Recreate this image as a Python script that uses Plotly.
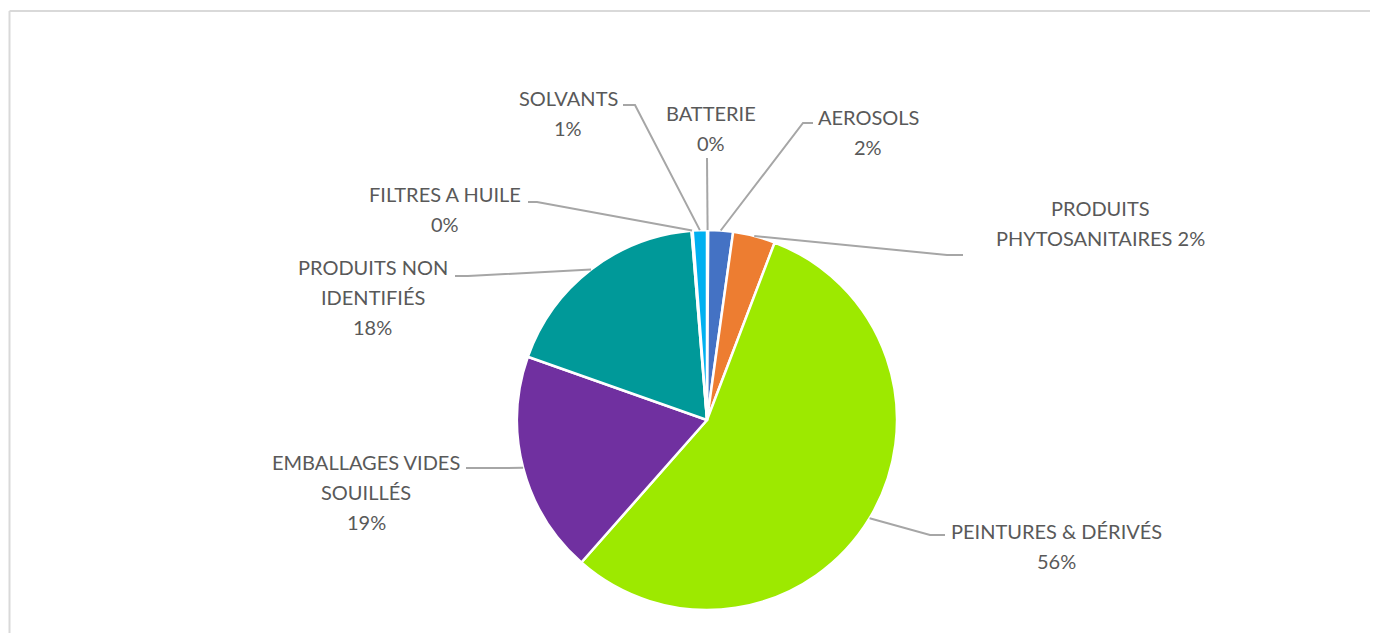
import plotly.graph_objects as go
import math

# --- data (clockwise from 12 o'clock) ---
categories = ["BATTERIE", "AEROSOLS", "PRODUITS PHYTOSANITAIRES", "PEINTURES & DÉRIVÉS",
              "EMBALLAGES VIDES SOUILLÉS", "PRODUITS NON IDENTIFIÉS", "FILTRES A HUILE", "SOLVANTS"]
values = [0.1, 2.1, 3.6, 55.7, 18.9, 18.3, 0.1, 1.2]
pct_text = ["0%", "2%", "2%", "56%", "19%", "18%", "0%", "1%"]
colors = ["#A5A5A5", "#4472C4", "#ED7D31", "#9DE900", "#7030A0", "#009999", "#FFC000", "#00B0F0"]

OFF = 8  # page body margin
W, H = 1378 - 2 * OFF, 641 - 2 * OFF
CX, CY, R = 707, 420, 190  # pie centre / radius in window px


def px(x, y):
    return (x - OFF) / W, 1 - (y - OFF) / H


# label layout: text lines, centre x, first line y, leader points (label side first)
label_layout = {
    "BATTERIE": (["BATTERIE"], 711, 113, [(707, 158)]),
    "AEROSOLS": (["AEROSOLS"], 868, 117, [(813, 123), (803, 123)]),
    "PRODUITS PHYTOSANITAIRES": (["PRODUITS", "PHYTOSANITAIRES"], 1100, 208, [(963, 255), (947, 255)]),
    "PEINTURES & DÉRIVÉS": (["PEINTURES & DÉRIVÉS"], 1056, 531, [(945, 535), (930, 535)]),
    "EMBALLAGES VIDES SOUILLÉS": (["EMBALLAGES VIDES", "SOUILLÉS"], 366, 462, [(466, 468), (478, 468)]),
    "PRODUITS NON IDENTIFIÉS": (["PRODUITS NON", "IDENTIFIÉS"], 373, 267, [(455, 276), (468, 276)]),
    "FILTRES A HUILE": (["FILTRES A HUILE"], 445, 194, [(528, 202), (537, 202)]),
    "SOLVANTS": (["SOLVANTS"], 568, 98, [(623, 105), (635, 105)]),
}
inline_pct = {"PRODUITS PHYTOSANITAIRES"}

x0, y0 = px(CX - R, CY + R)
x1, y1 = px(CX + R, CY - R)
fig = go.Figure(go.Pie(
    labels=categories,
    values=values,
    sort=False,
    direction="clockwise",
    rotation=0,
    marker=dict(colors=colors, line=dict(color="white", width=2.5)),
    textinfo="none",
    hoverinfo="label+percent",
    showlegend=False,
    domain=dict(x=[x0, x1], y=[y0, y1]),
))

annotations = []
shapes = []
total = sum(values)
cum = 0
for cat, v, pct in zip(categories, values, pct_text):
    mid = (cum + v / 2) / total * 2 * math.pi
    cum += v
    ex, ey = CX + R * math.sin(mid), CY - R * math.cos(mid)
    lines, tx, ty, pts = label_layout[cat]
    lines = list(lines)
    if cat in inline_pct:
        lines[-1] = lines[-1] + " " + pct
    else:
        lines.append(pct)
    for i, line in enumerate(lines):
        x, y = px(tx, ty + i * 30)
        annotations.append(dict(x=x, y=y, xref="paper", yref="paper", text=line, showarrow=False,
                                xanchor="center", yanchor="middle",
                                font=dict(family="Lato", size=20, color="#595959")))
    path_pts = pts + [(ex, ey)]
    path = "M " + " L ".join(f"{px(a, b)[0]},{px(a, b)[1]}" for a, b in path_pts)
    shapes.append(dict(type="path", xref="paper", yref="paper", path=path,
                       line=dict(color="#A6A6A6", width=2)))

# chart area border (top and left)
bx, by = 1.5 / W, px(4, 11)[1]
shapes.append(dict(type="line", xref="paper", yref="paper", x0=bx, x1=1.01, y0=by, y1=by,
                   line=dict(color="#D9D9D9", width=2)))
shapes.append(dict(type="line", xref="paper", yref="paper", x0=bx, x1=bx, y0=-0.02, y1=by,
                   line=dict(color="#D9D9D9", width=2)))

fig.update_layout(
    width=W, height=H,
    margin=dict(l=0, r=0, t=0, b=0),
    paper_bgcolor="white",
    plot_bgcolor="white",
    annotations=annotations,
    shapes=shapes,
)
fig.write_html("out.html")
